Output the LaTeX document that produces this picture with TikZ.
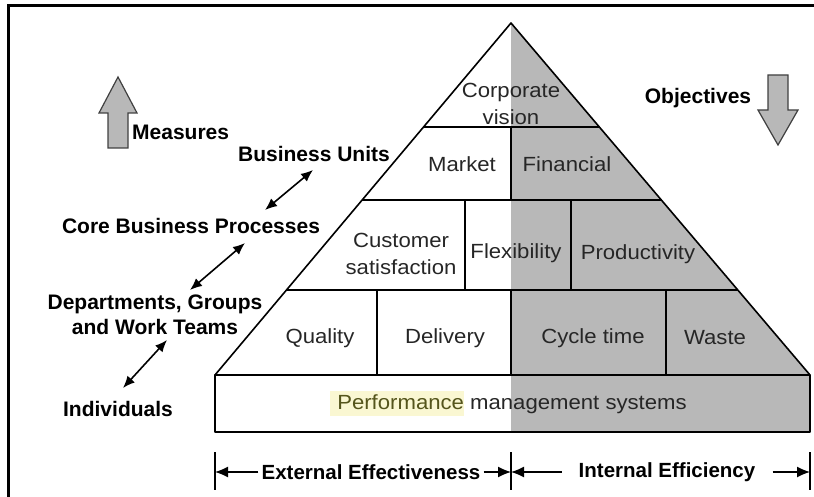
\documentclass[tikz,border=0pt]{standalone}
\usepackage{fontspec}
\setmainfont{Liberation Sans}
\newfontfamily\cellfont[FakeStretch=1.08]{Liberation Sans}
\usetikzlibrary{arrows.meta,calc}

\definecolor{pyrgray}{HTML}{B8B8B8}
\definecolor{hilite}{HTML}{FAF7D2}
\definecolor{perfink}{HTML}{55551C}

\tikzset{
  level/.style={font=\bfseries\fontsize{21}{25}\selectfont, inner sep=0pt, align=center},
  cell/.style={font=\cellfont\fontsize{20.5}{27}\selectfont, text=black!85, inner sep=0pt, align=center},
  wall/.style={line width=1.6pt, line join=round},
  bigarrow/.style={draw=black!75, fill=pyrgray, line width=1.2pt, line join=miter},
  link/.style={{Latex[length=12pt,width=10pt]}-{Latex[length=12pt,width=10pt]}, line width=1.6pt},
  dim/.style={-{Latex[length=13pt,width=11pt]}, line width=1.3pt},
}

\begin{document}
\begin{tikzpicture}[x=1pt, y=-1pt]
  \useasboundingbox (0,0) rectangle (814,497);
  % outer frame (only top and left edges fall inside)
  \draw[line width=3pt] (8,497) -- (8,6) -- (814,6);

  % pyramid corners
  \coordinate (apex) at (511,23);
  \coordinate (bl) at (215,375);
  \coordinate (br) at (810,375);

  % grey right half
  \fill[pyrgray] (apex) -- (br) -- (511,375) -- cycle;
  \fill[pyrgray] (511,375) rectangle (810,432);

  % highlight behind "Performance"
  \fill[hilite] (330,391) rectangle (464,416);

  % outline and rows
  \draw[wall] (bl) -- (apex) -- (br);
  \draw[wall] (215,375) rectangle (810,432);
  \foreach \f in {0.2955,0.503,0.7585} {
    \draw[wall] ($(apex)!\f!(bl)$) -- ($(apex)!\f!(br)$);
  }
  % cell dividers
  \foreach \x/\ya/\yb in {511/127/200, 465/200/290, 571/200/290, 377/290/375, 511/290/375, 666/290/375} {
    \draw[wall] (\x,\ya) -- (\x,\yb);
  }

  % cell texts
  \node[cell] (corp) at (511,104) {Corporate\\vision};
  \node[cell] (market) at (462,164) {Market};
  \node[cell] (fin) at (567,164) {Financial};
  \node[cell] (cust) at (401,254) {Customer\\satisfaction};
  \node[cell] (flex) at (516,253) {Flexibility};
  \node[cell] (prod) at (638,254) {Productivity};
  \node[cell] (qual) at (320,338) {Quality};
  \node[cell] (deliv) at (445,338) {Delivery};
  \node[cell] (cycle) at (593,338) {Cycle time};
  \node[cell] (waste) at (715,338) {Waste};
  \node[cell] (pms) at (512,404) {\textcolor{perfink}{Performance} management systems};

  % measures / objectives
  \draw[bigarrow] (118,77) -- (137,113) -- (128,113) -- (128,148) -- (108,148) -- (108,113) -- (99,113) -- cycle;
  \node[level, anchor=west] (meas) at (132,132) {Measures};
  \draw[bigarrow] (768,75) -- (788,75) -- (788,110) -- (798,110) -- (778,145) -- (758,110) -- (768,110) -- cycle;
  \node[level] (obj) at (698,98) {Objectives};

  % organisation levels
  \node[level] (bu) at (314,154) {Business Units};
  \node[level] (cbp) at (191,226) {Core Business Processes};
  \node[level] (dept) at (155,315) {Departments, Groups\\and Work Teams};
  \node[level] (indiv) at (118,409) {Individuals};

  \coordinate (a1) at (313,170);  \coordinate (b1) at (265,210);
  \coordinate (a2) at (245,243);  \coordinate (b2) at (190,290);
  \coordinate (a3) at (167,340);  \coordinate (b3) at (123,388);
  \draw[link] (a1) -- (b1);
  \draw[link] (a2) -- (b2);
  \draw[link] (a3) -- (b3);

  % effectiveness / efficiency span
  \foreach \x in {215,511,810} {
    \draw[line width=1.3pt] (\x,452) -- (\x,490);
  }
  \coordinate (dl) at (215,472);
  \coordinate (dm) at (511,472);
  \coordinate (dr) at (810,472);
  \node[level, font=\bfseries\fontsize{20.5}{24}\selectfont, inner xsep=3pt] (ext) at (371,472) {External Effectiveness};
  \node[level, font=\bfseries\fontsize{20.5}{24}\selectfont, inner xsep=17pt] (int) at (667,472) {Internal Efficiency};
  \draw[dim] (ext) -- (dl);
  \draw[dim] (ext) -- (dm);
  \draw[dim] (int) -- (dm);
  \draw[dim] (int) -- (dr);
\end{tikzpicture}
\end{document}
